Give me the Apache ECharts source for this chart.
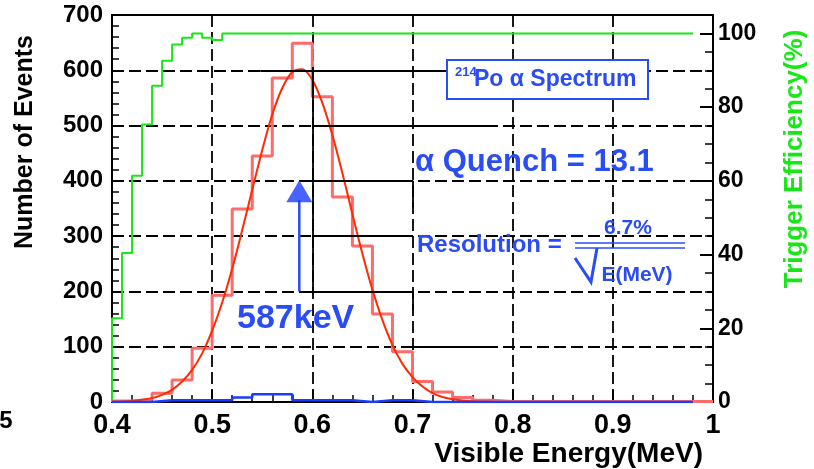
<!DOCTYPE html>
<html><head><meta charset="utf-8">
<script src="https://cdn.jsdelivr.net/npm/echarts@6/dist/echarts.min.js"></script>
<style>html,body{margin:0;padding:0;background:#fff}#c{width:814px;height:469px}</style>
</head><body><div id="c"></div>
<script>
// ---- data ----
const xTickLabels = ['0.4','0.5','0.6','0.7','0.8','0.9','1'];
// 214Po alpha histogram, bins of 0.02 MeV from 0.40 to 1.00
const alphaCounts = [2,5,16,40,97,193,349,445,586,649,552,371,282,159,91,37,18,8,3,1,1,1,1,1,1,1,1,1,1,1];
// blue histogram, bins of 0.02 MeV from 0.40 to 0.98
const blueCounts = [0,0,3,3,3,3,8,14,14,3,3,3,0,3,3,0,0,0,0,0,0,0,0,0,0,0,0,0,0];
// gaussian fit curve
const fitEnergy = [0.40,0.42,0.44,0.45,0.46,0.47,0.48,0.49,0.50,0.51,0.52,0.53,0.54,0.55,0.56,0.57,0.58,0.59,0.60,0.61,0.62,0.63,0.64,0.65,0.66,0.67,0.68,0.69,0.70,0.71,0.72,0.73,0.74,0.76,0.78,0.80];
const fitCounts = [0.5,2,7,13,22,37,58,88,129,180,241,311,384,456,520,568,597,602,583,541,483,414,340,268,203,148,103,69,45,28,16,9,5,1.3,0.3,0];
// trigger efficiency (%), variable-width bins
const effEdges = [0.40,0.41,0.42,0.43,0.44,0.45,0.46,0.47,0.48,0.49,0.50,0.51,0.98];
const effValues = [22.7,40.4,61.4,75.3,85.8,92.6,97.0,98.8,100,98.8,98.2,100];
// peak marker
const peakEnergy = 0.587;
const arrowShaft = [200, 365];
const arrowHeadCenter = 381;
// solid pieces of the grid seen in the picture (energy, events)
const solidGridSegments = [
  [[0.548, 600], [0.735, 600]],
  [[0.60, 500], [0.775, 500]],
  [[0.59, 400], [0.70, 400]],
  [[0.70, 400], [0.70, 352]],
  [[0.60, 300], [0.70, 300]],
  [[0.59, 200], [0.70, 200]],
  [[0.70, 200], [0.70, 166]],
  [[0.70, 100], [0.775, 100]],
  [[0.60, 606], [0.60, 193]]
];

// ---- build ----
const BIN = 0.02, START = 0.40;
const edgesFor = n => Array.from({length: n + 1}, (_, i) => +(START + i * BIN).toFixed(2));
function stepData(edges, vals) {
  const d = vals.map((v, i) => [edges[i], v]);
  d.push([edges[vals.length], vals[vals.length - 1]]);
  return d;
}
const alphaData = stepData(edgesFor(alphaCounts.length), alphaCounts);
const blueData = stepData(edgesFor(blueCounts.length), blueCounts);
const effData = [[effEdges[0], 0]].concat(stepData(effEdges, effValues));
const fitData = fitEnergy.map((e, i) => [e, fitCounts[i]]);

const BLUE = '#2a4cf4', GREEN = '#19e619';
const FONT = 'Liberation Sans, Arial, Helvetica, sans-serif';
const chart = echarts.init(document.getElementById('c'));
const gridDash = {color: '#000', width: 1.8, type: [12, 5]};

chart.setOption({
  animation: false,
  backgroundColor: '#fff',
  grid: {left: 112, right: 101, top: 15, bottom: 67, show: true, borderColor: '#000', borderWidth: 2, backgroundColor: 'transparent'},
  xAxis: {
    type: 'value', min: 0.4, max: 1.0, interval: 0.1,
    axisLine: {lineStyle: {color: '#000', width: 2}},
    axisTick: {inside: true, length: 12, lineStyle: {color: '#000', width: 2}},
    minorTick: {show: true, splitNumber: 5, length: 7, lineStyle: {color: '#000', width: 1.5}},
    splitLine: {show: true, lineStyle: gridDash},
    axisLabel: {margin: 10, color: '#000', fontFamily: FONT, fontWeight: 'bold', fontSize: 27,
      formatter: v => xTickLabels[Math.round((v - 0.4) / 0.1)] || ''}
  },
  yAxis: [
    {
      type: 'value', min: 0, max: 700, interval: 100, position: 'left',
      axisLine: {show: true, lineStyle: {color: '#000', width: 2}},
      axisTick: {show: true, inside: true, length: 12, lineStyle: {color: '#000', width: 2}},
      minorTick: {show: true, splitNumber: 5, length: 7, lineStyle: {color: '#000', width: 1.5}},
      splitLine: {show: true, lineStyle: gridDash},
      axisLabel: {margin: 9, color: '#000', fontFamily: FONT, fontWeight: 'bold', fontSize: 24}
    },
    {
      type: 'value', min: 0, max: 105, interval: 5, position: 'right',
      axisLine: {show: true, lineStyle: {color: '#000', width: 2}},
      axisTick: {show: true, inside: true, length: 8, lineStyle: {color: '#000', width: 1.5}},
      splitLine: {show: false},
      axisLabel: {show: false}
    },
    {
      type: 'value', min: 0, max: 105, interval: 20, position: 'right',
      axisLine: {show: false},
      axisTick: {show: true, inside: true, length: 13, lineStyle: {color: '#000', width: 2}},
      splitLine: {show: false},
      axisLabel: {margin: 5, color: '#000', fontFamily: FONT, fontWeight: 'bold', fontSize: 23,
        formatter: v => (v % 20 === 0 ? String(v) : '')}
    }
  ],
  series: [
    {type: 'line', name: 'gridSolid', data: [], symbol: 'none', z: 1, silent: true,
      markLine: {silent: true, symbol: 'none', label: {show: false},
        lineStyle: {color: '#000', width: 1.8, type: 'solid'},
        data: solidGridSegments.map(s => [{coord: s[0]}, {coord: s[1]}])}},
    {type: 'line', name: 'eff', yAxisIndex: 1, data: effData, step: 'end', symbol: 'none',
      lineStyle: {color: GREEN, width: 2}, z: 2},
    {type: 'line', name: 'alpha', data: alphaData, step: 'end', symbol: 'none',
      lineStyle: {color: '#ff6b6b', width: 3}, z: 3},
    {type: 'line', name: 'fit', data: fitData, smooth: 0.3, symbol: 'none',
      lineStyle: {color: '#ff2a00', width: 2}, z: 4},
    {type: 'line', name: 'blue', data: blueData, step: 'end', symbol: 'none',
      lineStyle: {color: '#1a3cff', width: 2.5}, z: 5},
    {type: 'line', name: 'arrow', data: [[peakEnergy, arrowShaft[0]], [peakEnergy, arrowShaft[1]]], symbol: 'none',
      lineStyle: {color: BLUE, width: 2.5}, z: 6},
    {type: 'scatter', name: 'arrowHead', data: [[peakEnergy, arrowHeadCenter]], symbol: 'triangle', symbolSize: [26, 22],
      itemStyle: {color: '#1a3cff'}, z: 6}
  ],
  graphic: [
    {type: 'text', x: 25, y: 142, rotation: Math.PI / 2,
      style: {text: 'Number of Events', x: 0, y: 0, textAlign: 'center', textVerticalAlign: 'middle',
        font: 'bold 25px ' + FONT, fill: '#000'}},
    {type: 'text', x: 795, y: 159, rotation: Math.PI / 2,
      style: {text: 'Trigger Efficiency(%)', x: 0, y: 0, textAlign: 'center', textVerticalAlign: 'middle',
        font: 'bold 26px ' + FONT, fill: GREEN}},
    {type: 'text', style: {text: 'Visible Energy(MeV)', x: 703, y: 454, textAlign: 'right', textVerticalAlign: 'middle',
      font: 'bold 28px ' + FONT, fill: '#000'}},
    {type: 'text', style: {text: '5', x: 6, y: 421, textAlign: 'center', textVerticalAlign: 'middle',
      font: 'bold 24px ' + FONT, fill: '#000'}},
    {type: 'rect', shape: {x: 447, y: 60, width: 201, height: 39}, style: {fill: '#fff', stroke: BLUE, lineWidth: 2}, z: 10},
    {type: 'text', z: 11, style: {text: '214', x: 455, y: 72, textAlign: 'left', textVerticalAlign: 'middle',
      font: 'bold 13px ' + FONT, fill: BLUE}},
    {type: 'text', z: 11, style: {text: 'Po α Spectrum', x: 474, y: 80, textAlign: 'left', textVerticalAlign: 'middle',
      font: 'bold 23px ' + FONT, fill: BLUE}},
    {type: 'text', z: 11, style: {text: 'α Quench = 13.1', x: 415, y: 162, textAlign: 'left', textVerticalAlign: 'middle',
      font: 'bold 31px ' + FONT, fill: BLUE}},
    {type: 'text', z: 11, style: {text: 'Resolution =', x: 417, y: 245, textAlign: 'left', textVerticalAlign: 'middle',
      font: 'bold 24px ' + FONT, fill: BLUE}},
    {type: 'text', z: 11, style: {text: '6.7%', x: 628, y: 228, textAlign: 'center', textVerticalAlign: 'middle',
      font: 'bold 21px ' + FONT, fill: BLUE}},
    {type: 'line', z: 11, shape: {x1: 575, y1: 243, x2: 685, y2: 243}, style: {stroke: BLUE, lineWidth: 1.6}},
    {type: 'line', z: 11, shape: {x1: 575, y1: 248, x2: 685, y2: 248}, style: {stroke: BLUE, lineWidth: 1.6}},
    {type: 'polyline', z: 11, shape: {points: [[575, 258], [591, 282], [597, 248]]}, style: {stroke: BLUE, lineWidth: 3, fill: null}},
    {type: 'text', z: 11, style: {text: 'E(MeV)', x: 637, y: 275, textAlign: 'center', textVerticalAlign: 'middle',
      font: 'bold 21px ' + FONT, fill: BLUE}},
    {type: 'text', z: 11, style: {text: '587keV', x: 237, y: 319, textAlign: 'left', textVerticalAlign: 'middle',
      font: 'bold 34px ' + FONT, fill: BLUE}}
  ]
});
</script></body></html>
